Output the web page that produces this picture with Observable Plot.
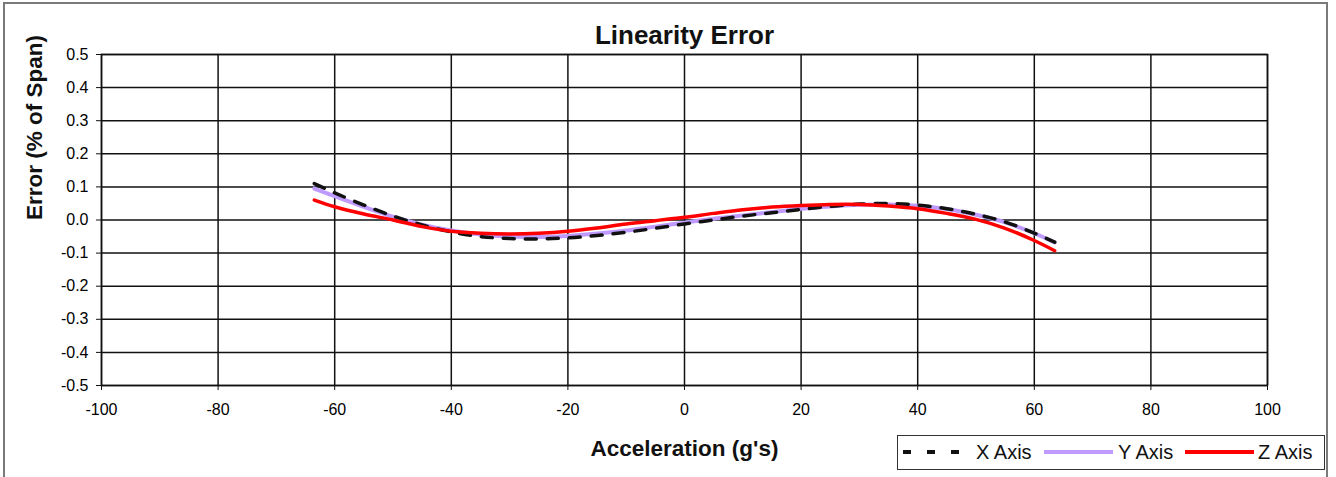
<!DOCTYPE html>
<html>
<head>
<meta charset="utf-8">
<script src="https://cdn.jsdelivr.net/npm/d3@7"></script>
<script src="https://cdn.jsdelivr.net/npm/@observablehq/plot@0.6"></script>
<style>
  html, body { margin: 0; padding: 0; background: #fff; }
  #wrap { position: relative; width: 1336px; height: 477px; overflow: hidden; font-family: "Liberation Sans", Arial, sans-serif; }
  #wrap > svg { position: absolute; left: 0; top: 0; font-family: "Liberation Sans", Arial, sans-serif; }
  #outer { position: absolute; left: 3px; top: 2px; width: 1325px; height: 490px; border: 2px solid #7a7a7a; box-sizing: border-box; pointer-events: none; }
  #legend { position: absolute; left: 897px; top: 435px; width: 428px; height: 35px; border: 1.5px solid #333; box-sizing: border-box; background: #fff; }
  #legend .item { position: absolute; top: 0; height: 32px; display: flex; align-items: center; font-size: 20px; color: #111; white-space: nowrap; }
  #legend .item svg { position: static; display: block; }
</style>
</head>
<body>
<div id="wrap"><div id="outer"></div></div>
<script>
const accel = [-63.5, -60, -55, -50, -45, -40, -35, -30, -25, -20, -15, -10, -5, 0, 5, 10, 15, 20, 25, 30, 35, 40, 45, 50, 55, 60, 63.5];
const errX = [0.110, 0.082, 0.045, 0.012, -0.015, -0.036, -0.050, -0.056, -0.057, -0.054, -0.047, -0.037, -0.025, -0.012, 0.000, 0.012, 0.022, 0.032, 0.041, 0.048, 0.050, 0.045, 0.034, 0.017, -0.006, -0.040, -0.067];
const errY = [0.095, 0.072, 0.040, 0.010, -0.014, -0.032, -0.044, -0.050, -0.051, -0.048, -0.041, -0.032, -0.020, -0.008, 0.004, 0.014, 0.024, 0.034, 0.041, 0.046, 0.047, 0.043, 0.033, 0.016, -0.007, -0.040, -0.068];
const errZ = [0.060, 0.040, 0.018, 0.000, -0.020, -0.034, -0.040, -0.042, -0.040, -0.034, -0.024, -0.012, -0.002, 0.008, 0.020, 0.031, 0.039, 0.044, 0.047, 0.047, 0.042, 0.034, 0.020, 0.002, -0.025, -0.062, -0.093];
const seriesNames = ["X Axis", "Y Axis", "Z Axis"];
const xTicks = [-100, -80, -60, -40, -20, 0, 20, 40, 60, 80, 100];
const yTicks = [-0.5, -0.4, -0.3, -0.2, -0.1, 0.0, 0.1, 0.2, 0.3, 0.4, 0.5];
const titleText = "Linearity Error";
const xLabel = "Acceleration (g's)";
const yLabel = "Error (% of Span)";

const rows = (vals) => accel.map((a, i) => ({a, e: vals[i]}));
const dX = rows(errX), dY = rows(errY), dZ = rows(errZ);

const chart = Plot.plot({
  width: 1336,
  height: 477,
  marginLeft: 101,
  marginRight: 69,
  marginTop: 54,
  marginBottom: 92,
  x: {domain: [-100, 100]},
  y: {domain: [-0.5, 0.5]},
  marks: [
    Plot.gridX(xTicks, {stroke: "#111", strokeOpacity: 1, strokeWidth: 1.5}),
    Plot.gridY(yTicks, {stroke: "#111", strokeOpacity: 1, strokeWidth: 1.5}),
    Plot.frame({stroke: "#111", strokeWidth: 1.5}),
    Plot.axisX({ticks: xTicks, tickFormat: d => String(d), tickSize: 5, tickPadding: 13, fontSize: 16, label: null, stroke: "#111"}),
    Plot.axisY({ticks: yTicks, tickFormat: d => d.toFixed(1), tickSize: 5, tickPadding: 8, fontSize: 16, label: null, stroke: "#111"}),
    Plot.line(dY, {x: "a", y: "e", stroke: "#bf9bff", strokeWidth: 4, curve: "catmull-rom"}),
    Plot.line(dX, {x: "a", y: "e", stroke: "#111", strokeWidth: 3.5, strokeDasharray: "11,11", curve: "catmull-rom"}),
    Plot.line(dZ, {x: "a", y: "e", stroke: "#ff0000", strokeWidth: 3.5, curve: "catmull-rom"}),
    Plot.text([titleText], {text: d => d, frameAnchor: "top", lineAnchor: "middle", dy: -19, fontSize: 26, fontWeight: "bold", fill: "#111"}),
    Plot.text([xLabel], {text: d => d, frameAnchor: "bottom", lineAnchor: "middle", dy: 63, fontSize: 22.5, fontWeight: "bold", fill: "#111"}),
    Plot.text([yLabel], {text: d => d, frameAnchor: "left", lineAnchor: "middle", dx: -67, rotate: -90, fontSize: 22.5, fontWeight: "bold", fill: "#111"})
  ]
});
const wrap = document.getElementById("wrap");
wrap.insertBefore(chart, wrap.firstChild);

// legend
const legend = document.createElement("div");
legend.id = "legend";
const items = [
  {name: seriesNames[0], left: 5, stroke: "#111", dash: "8,16", sw: 4, lw: 57, gap: 16},
  {name: seriesNames[1], left: 146, stroke: "#bf9bff", dash: null, sw: 4, lw: 69, gap: 5},
  {name: seriesNames[2], left: 287, stroke: "#ff0000", dash: null, sw: 4, lw: 69, gap: 4}
];
for (const it of items) {
  const div = document.createElement("div");
  div.className = "item";
  div.style.left = it.left + "px";
  const svg = d3.create("svg").attr("width", it.lw).attr("height", 10);
  svg.append("line").attr("x1", 0).attr("x2", it.lw).attr("y1", 5).attr("y2", 5)
    .attr("stroke", it.stroke).attr("stroke-width", it.sw).attr("stroke-dasharray", it.dash);
  div.appendChild(svg.node());
  const span = document.createElement("span");
  span.textContent = it.name;
  span.style.marginLeft = it.gap + "px";
  div.appendChild(span);
  legend.appendChild(div);
}
wrap.appendChild(legend);
</script>
</body>
</html>
